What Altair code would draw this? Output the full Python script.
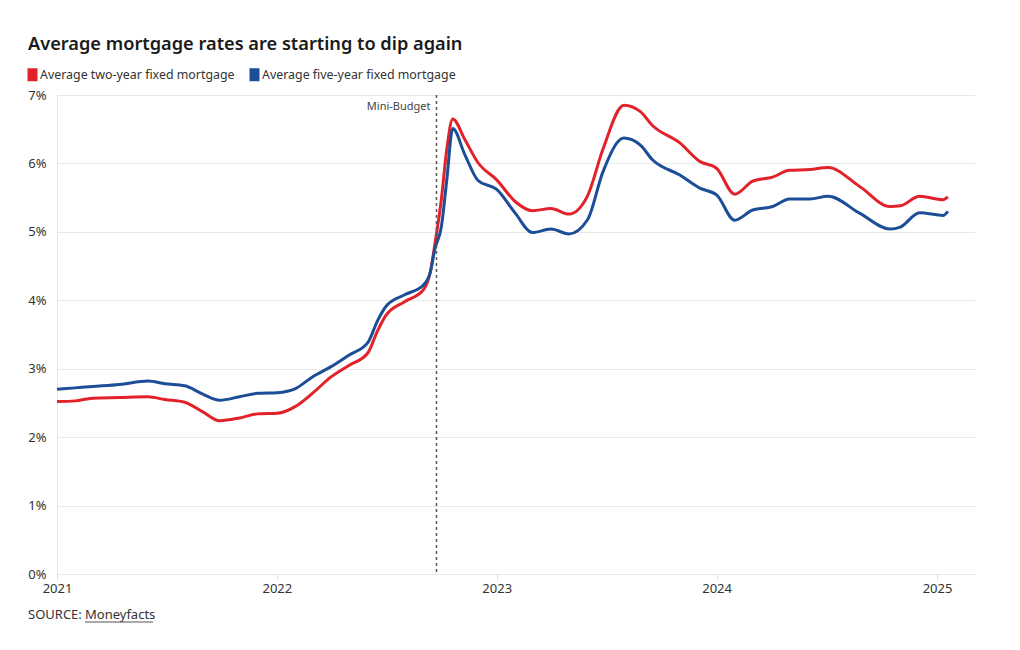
import altair as alt
import pandas as pd

# ---- data ----
dates = [
    "2021-01-01", "2021-01-31", "2021-03-01", "2021-04-15", "2021-06-01", "2021-06-29",
    "2021-08-01", "2021-08-31", "2021-09-28", "2021-10-31", "2021-11-30", "2022-01-02",
    "2022-02-01", "2022-03-01", "2022-04-01", "2022-05-01", "2022-06-01", "2022-06-17",
    "2022-07-01", "2022-08-01", "2022-09-01", "2022-09-13", "2022-09-20", "2022-10-01",
    "2022-10-10", "2022-10-20", "2022-11-09", "2022-12-01", "2023-01-01", "2023-02-01",
    "2023-03-01", "2023-04-01", "2023-05-01", "2023-06-01", "2023-06-26", "2023-07-31",
    "2023-08-27", "2023-09-17", "2023-11-01", "2023-12-04", "2024-01-01", "2024-01-31",
    "2024-03-01", "2024-04-03", "2024-05-01", "2024-06-04", "2024-07-04", "2024-08-26",
    "2024-10-15", "2024-11-01", "2024-12-03", "2025-01-11", "2025-01-19",
]
two_year = [
    2.52, 2.53, 2.57, 2.58, 2.59, 2.55,
    2.51, 2.37, 2.24, 2.28, 2.34, 2.35,
    2.45, 2.64, 2.88, 3.05, 3.23, 3.55,
    3.78, 3.98, 4.15, 4.42, 4.80, 5.47,
    6.20, 6.65, 6.35, 6.01, 5.76, 5.44,
    5.31, 5.34, 5.26, 5.53, 6.20, 6.85,
    6.76, 6.55, 6.30, 6.03, 5.93, 5.55,
    5.74, 5.80, 5.90, 5.91, 5.94, 5.66,
    5.37, 5.38, 5.52, 5.47, 5.51,
]
five_year = [
    2.70, 2.72, 2.74, 2.77, 2.82, 2.78,
    2.75, 2.63, 2.54, 2.59, 2.64, 2.65,
    2.71, 2.88, 3.03, 3.20, 3.38, 3.70,
    3.91, 4.08, 4.22, 4.42, 4.74, 5.07,
    5.75, 6.51, 6.13, 5.75, 5.62, 5.27,
    4.99, 5.04, 4.97, 5.18, 5.87, 6.37,
    6.27, 6.05, 5.83, 5.64, 5.54, 5.17,
    5.32, 5.37, 5.48, 5.48, 5.52, 5.27,
    5.04, 5.07, 5.28, 5.24, 5.30,
]
series_names = ["Average two-year fixed mortgage", "Average five-year fixed mortgage"]
series_colors = ["#e2222b", "#1c4d97"]
y_ticks = [0, 1, 2, 3, 4, 5, 6, 7]
x_years = [2021, 2022, 2023, 2024, 2025]
x_domain = ["2021-01-01", "2025-03-05"]
event_dates = ["2022-09-23"]
event_labels = ["Mini-Budget"]
title_text = ["Average mortgage rates are starting to dip again"]
source_prefix = ["SOURCE:"]
source_name = ["Moneyfacts"]

FONT = "Noto Sans"
n = len(dates)
df = pd.DataFrame({
    "date": dates + dates,
    "rate": two_year + five_year,
    "series": [series_names[0]] * n + [series_names[1]] * n,
})
events = pd.DataFrame({"date": event_dates, "label": event_labels})

# thin bar path drawn with a thick stroke -> filled 10x13 block
legend_symbol = "M -0.5 -1 L 0.5 -1 L 0.5 1 L -0.5 1 Z"

x_enc = alt.X(
    "date:T",
    scale=alt.Scale(domain=x_domain),
    axis=alt.Axis(
        values=[alt.DateTime(year=y, month=1, date=1) for y in x_years],
        format="%Y", title=None, grid=False, domain=False, labelFlush=False,
        ticks=True, tickSize=5, tickColor="#dddddd",
        labelFont=FONT, labelFontSize=13, labelColor="#333333", labelPadding=3,
    ),
)

lines = alt.Chart(df).mark_line(interpolate="monotone", strokeWidth=3).encode(
    x=x_enc,
    y=alt.Y(
        "rate:Q",
        scale=alt.Scale(domain=[0, 7], nice=False),
        axis=alt.Axis(
            values=y_ticks, labelExpr="datum.value + '%'", title=None,
            grid=True, gridColor="#e9e9e9", domain=True, domainColor="#e9e9e9",
            ticks=False, labelPadding=11,
            labelFont=FONT, labelFontSize=13, labelColor="#333333",
        ),
    ),
    color=alt.Color(
        "series:N",
        scale=alt.Scale(domain=series_names, range=series_colors),
        legend=alt.Legend(
            orient="none", legendX=-31, legendY=-27, direction="horizontal",
            title=None, symbolType=legend_symbol, symbolSize=36, symbolStrokeWidth=7,
            labelFont=FONT, labelFontSize=12.4, labelColor="#333333", labelLimit=0,
            labelOffset=1, columnPadding=4, padding=0,
        ),
    ),
)

rule = alt.Chart(events).mark_rule(strokeDash=[3, 3], color="#555555", strokeWidth=1.5).encode(
    x=alt.X("date:T")
)
rule_label = alt.Chart(events).mark_text(
    align="right", baseline="middle", dx=-6, font=FONT, fontSize=11, color="#444444"
).encode(x=alt.X("date:T"), y=alt.value(12), text="label:N")

title = alt.Chart(pd.DataFrame({"t": title_text})).mark_text(
    align="left", baseline="alphabetic", font=FONT, fontSize=18.2, fontWeight=600, color="#1a1a1a"
).encode(x=alt.value(-29), y=alt.value(-45), text="t:N")

src1 = alt.Chart(pd.DataFrame({"t": source_prefix})).mark_text(
    align="left", baseline="alphabetic", font=FONT, fontSize=13, color="#333333"
).encode(x=alt.value(-29), y=alt.value(524), text="t:N")
src2 = alt.Chart(pd.DataFrame({"t": source_name})).mark_text(
    align="left", baseline="alphabetic", font=FONT, fontSize=13, color="#333333"
).encode(x=alt.value(28), y=alt.value(524), text="t:N")
src_underline = alt.Chart(pd.DataFrame({"t": source_name})).mark_rule(
    color="#555555", strokeWidth=1
).encode(x=alt.value(28), x2=alt.value(96), y=alt.value(527))

chart = alt.layer(lines, rule, rule_label, title, src1, src2, src_underline).properties(
    width=918, height=479,
    autosize=alt.AutoSizeParams(type="none"),
    padding={"left": 49, "top": 87, "right": 30, "bottom": 60},
    background="white",
).configure_view(stroke=None)

chart.save("out.html", embed_options={"renderer": "svg", "actions": False})
